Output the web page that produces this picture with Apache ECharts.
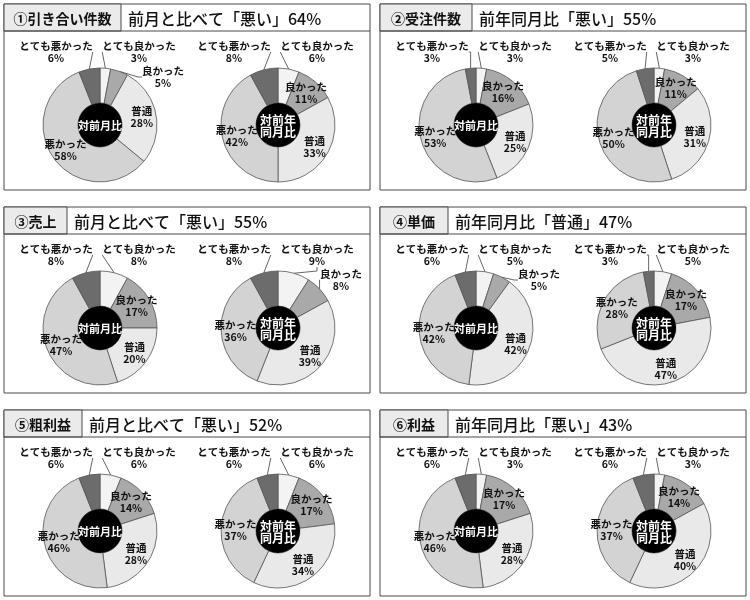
<!DOCTYPE html>
<html>
<head>
    <meta charset="utf-8"/>
    <title>ECharts</title>
    <script src="https://cdn.jsdelivr.net/npm/echarts@6/dist/echarts.min.js"></script>
    <style>
        html, body { margin: 0; padding: 0; background: #fff; }
    </style>
</head>
<body>
<div id="main" style="width: 750px;height:600px;"></div>
<script type="text/javascript">
    // 区分（時計回り、12時から）
    var categories = ['とても良かった', '良かった', '普通', '悪かった', 'とても悪かった'];
    // 各パネルの見出し
    var panelLabels = ['①引き合い件数', '②受注件数', '③売上', '④単価', '⑤粗利益', '⑥利益'];
    var panelTitles = [
        '前月と比べて「悪い」64%',
        '前年同月比「悪い」55%',
        '前月と比べて「悪い」55%',
        '前年同月比「普通」47%',
        '前月と比べて「悪い」52%',
        '前年同月比「悪い」43%'
    ];
    var centerTexts = ['対前月比', '対前年\n同月比'];
    // 対前月比（%）
    var momValues = [
        [3, 5, 28, 58, 6],
        [3, 16, 25, 53, 3],
        [8, 17, 20, 47, 8],
        [5, 5, 42, 42, 6],
        [6, 14, 28, 46, 6],
        [3, 17, 28, 46, 6]
    ];
    // 対前年同月比（%）
    var yoyValues = [
        [6, 11, 33, 42, 8],
        [3, 11, 31, 50, 5],
        [9, 8, 39, 36, 8],
        [5, 17, 47, 28, 3],
        [6, 17, 34, 37, 6],
        [3, 14, 40, 37, 6]
    ];

    var FONT = '"Noto Sans CJK JP", "Noto Sans", sans-serif';
    var sliceColors = ['#f3f3f3', '#a9a9a9', '#e9e9e9', '#d3d3d3', '#6c6c6c'];
    // レイアウト
    var colX = [4, 380], rowY = [4, 207, 410];
    var panelW = 366, panelH = 186, headH = 27;
    var tagW = [117, 92, 63, 68, 78, 68];
    var pieDX = [96, 274], pieDY = 121, rIn = 22, rOut = 57;
    // 外側ラベルの位置（円の中心からのずれ）
    var outsideOffset = {
        'とても良かった': [39, -73],
        '良かった': [63, -48],
        'とても悪かった': [-44, -73]
    };

    function isOutside(name, v) {
        if (name === 'とても良かった' || name === 'とても悪かった') return true;
        if (name === '良かった' && v < 10) return true;
        return false;
    }

    var myChart = echarts.init(document.getElementById('main'));
    var graphics = [];
    var series = [];

    for (var p = 0; p < 6; p++) {
        var px = colX[p % 2], py = rowY[Math.floor(p / 2)];
        graphics.push({
            type: 'rect', shape: {x: px, y: py, width: panelW, height: panelH},
            style: {fill: '#fff', stroke: '#4a4a4a', lineWidth: 1}, z: 0
        });
        graphics.push({
            type: 'rect', shape: {x: px, y: py, width: tagW[p], height: headH},
            style: {fill: '#ebebeb', stroke: '#4a4a4a', lineWidth: 1}, z: 1
        });
        graphics.push({
            type: 'line', shape: {x1: px, y1: py + headH, x2: px + panelW, y2: py + headH},
            style: {stroke: '#4a4a4a', lineWidth: 1}, z: 1
        });
        graphics.push({
            type: 'text', x: px + tagW[p] / 2, y: py + headH / 2 + 1, z: 2,
            style: {text: panelLabels[p], fill: '#111', font: 'bold 14px ' + FONT, align: 'center', verticalAlign: 'middle'}
        });
        graphics.push({
            type: 'text', x: px + tagW[p] + 7, y: py + headH / 2 + 1, z: 2,
            style: {text: panelTitles[p], fill: '#111', font: '500 16px ' + FONT, align: 'left', verticalAlign: 'middle'}
        });

        var vals = [momValues[p], yoyValues[p]];
        for (var k = 0; k < 2; k++) {
            var cx = px + pieDX[k], cy = py + pieDY;
            graphics.push({
                type: 'circle', shape: {cx: cx, cy: cy, r: rIn}, style: {fill: '#000'}, z: 20
            });
            graphics.push({
                type: 'text', x: cx, y: cy + 1, z: 21,
                style: {
                    text: centerTexts[k], fill: '#fff', font: 'bold ' + (k === 0 ? 11 : 12) + 'px ' + FONT,
                    lineHeight: 12, align: 'center', verticalAlign: 'middle'
                }
            });
            series.push(makePie(cx, cy, vals[k]));
        }
    }

    function makePie(cx, cy, values) {
        var data = values.map(function (v, i) {
            var out = isOutside(categories[i], v);
            return {
                name: categories[i],
                value: v,
                itemStyle: {color: sliceColors[i]},
                label: {position: out ? 'outside' : 'inside'},
                labelLine: {show: out}
            };
        });
        return {
            type: 'pie',
            center: [cx, cy],
            radius: [rIn, rOut],
            startAngle: 90,
            clockwise: true,
            avoidLabelOverlap: false,
            silent: true,
            animation: false,
            data: data,
            itemStyle: {borderColor: '#555', borderWidth: 0.8},
            label: {
                formatter: '{b}\n{c}%',
                color: '#111',
                fontFamily: FONT,
                fontSize: 10.5,
                fontWeight: 'bold',
                lineHeight: 12,
                align: 'center'
            },
            labelLine: {length: 8, length2: 4, lineStyle: {color: '#666', width: 1}},
            labelLayout: function (params) {
                var item = data[params.dataIndex];
                if (item.label.position !== 'outside') return null;
                var off = outsideOffset[item.name];
                return {x: cx + off[0], y: cy + off[1], align: 'center', verticalAlign: 'middle'};
            }
        };
    }

    var option = {
        backgroundColor: '#fff',
        animation: false,
        graphic: {elements: graphics},
        series: series
    };
    myChart.setOption(option);
</script>
</body>
</html>
